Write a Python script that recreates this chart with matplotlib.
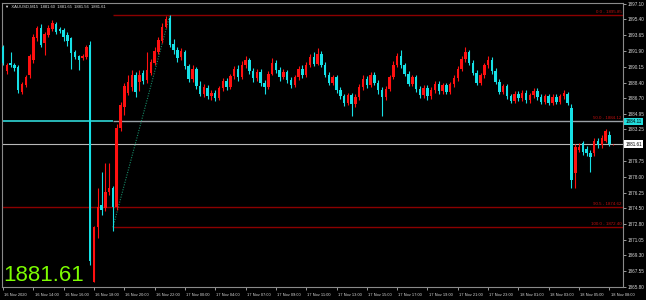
import matplotlib
matplotlib.use("Agg")
import matplotlib.pyplot as plt
import matplotlib.transforms as mtransforms
import numpy as np

symbol = "XAUUSD,M15"

# M15 bars, 16 Nov 12:00 .. 18 Nov 08:00
opens = [
    1892.3, 1889.7, 1890.6, 1890.4, 1890.1, 1887.4, 1888.1, 1889.2, 1890.9, 1893.3,
    1894.5, 1892.8, 1893.7, 1894.3, 1894.9, 1894.3, 1894.2, 1893.7, 1893.3, 1891.8,
    1891.3, 1891.1, 1891.2, 1892.6, 1866.4, 1872.4, 1874.9, 1874.5, 1876.3, 1876.7,
    1874.7, 1883.4, 1885.7, 1887.3, 1887.9, 1889.3, 1888.5, 1889.5, 1888.7, 1889.5,
    1890.6, 1891.8, 1893.0, 1894.6, 1895.6, 1892.7, 1892.0, 1891.2, 1891.8, 1890.2,
    1888.8, 1889.9, 1888.0, 1887.2, 1887.8, 1886.9, 1887.3, 1886.7, 1887.8, 1888.6,
    1887.9, 1889.1, 1889.9, 1889.0, 1890.3, 1890.9, 1889.7, 1888.9, 1889.6, 1888.4,
    1887.9, 1889.4, 1890.6, 1889.8, 1889.0, 1889.6, 1888.7, 1888.1, 1889.0, 1889.9,
    1889.2, 1890.4, 1891.2, 1890.5, 1891.6, 1890.4, 1889.3, 1888.4, 1889.0, 1887.6,
    1886.9, 1886.2, 1887.0, 1886.0, 1886.8, 1887.9, 1888.8, 1888.1, 1889.3, 1888.4,
    1887.6, 1886.8, 1887.7, 1889.0, 1890.4, 1891.3, 1890.3, 1889.4, 1888.3, 1889.0,
    1887.7, 1887.0, 1887.8, 1886.9, 1887.6, 1888.3, 1887.5, 1888.1, 1887.4, 1888.2,
    1888.9, 1889.9, 1891.0, 1891.8, 1890.6, 1889.5, 1888.4, 1889.2, 1890.3, 1890.9,
    1889.7, 1888.5, 1887.4, 1888.0, 1886.9, 1886.4, 1887.2, 1886.7, 1887.3, 1886.5,
    1887.0, 1887.5, 1886.8, 1886.3, 1886.9, 1886.2, 1886.8, 1886.3, 1886.9, 1887.1,
    1885.6, 1878.4, 1881.0, 1881.7, 1881.1, 1880.6, 1880.6, 1882.0, 1881.5, 1882.0,
    1882.6, 1881.60,
]
highs = [
    1892.6, 1890.6, 1891.8, 1890.6, 1890.3, 1888.5, 1889.3, 1891.6, 1893.8, 1894.7,
    1894.9, 1894.0, 1894.8, 1895.3, 1895.1, 1894.6, 1894.4, 1894.0, 1893.5, 1892.0,
    1891.5, 1891.6, 1892.6, 1893.0, 1872.6, 1876.8, 1878.5, 1879.5, 1879.5, 1877.0,
    1883.8, 1886.3, 1888.4, 1889.3, 1889.8, 1889.6, 1889.8, 1889.8, 1891.8, 1891.0,
    1892.3, 1893.4, 1895.0, 1895.8, 1895.85, 1893.2, 1892.3, 1892.2, 1892.0, 1890.5,
    1890.3, 1890.1, 1888.6, 1888.2, 1888.1, 1887.6, 1887.6, 1888.0, 1888.9, 1888.9,
    1889.4, 1890.2, 1890.3, 1890.8, 1891.4, 1891.1, 1890.0, 1889.9, 1889.9, 1888.7,
    1889.7, 1891.1, 1890.9, 1890.1, 1889.9, 1889.8, 1889.0, 1889.3, 1890.2, 1890.3,
    1890.7, 1891.6, 1891.8, 1892.2, 1891.9, 1890.7, 1889.6, 1889.3, 1889.3, 1887.9,
    1887.2, 1887.3, 1887.3, 1887.1, 1888.2, 1889.2, 1889.1, 1889.6, 1889.6, 1888.7,
    1887.9, 1888.0, 1889.3, 1890.8, 1891.7, 1892.0, 1890.6, 1889.7, 1889.3, 1889.3,
    1888.0, 1888.1, 1888.1, 1887.9, 1888.6, 1888.6, 1888.4, 1888.4, 1888.5, 1889.2,
    1890.2, 1891.4, 1892.3, 1892.0, 1890.9, 1889.8, 1889.5, 1890.6, 1891.3, 1891.2,
    1890.0, 1888.8, 1888.3, 1888.3, 1887.2, 1887.5, 1887.5, 1887.6, 1887.6, 1887.3,
    1887.8, 1887.8, 1887.1, 1887.2, 1887.2, 1887.1, 1887.1, 1887.2, 1887.6, 1887.4,
    1886.0, 1881.6, 1881.7, 1882.0, 1881.4, 1880.9, 1882.3, 1882.3, 1882.6, 1883.3,
    1883.0, 1881.65,
]
lows = [
    1890.4, 1889.4, 1890.1, 1889.7, 1887.3, 1887.2, 1887.9, 1888.9, 1890.6, 1893.0,
    1892.3, 1891.5, 1893.5, 1894.1, 1893.8, 1893.9, 1893.0, 1892.5, 1889.9, 1891.0,
    1889.8, 1890.9, 1891.0, 1868.2, 1866.3, 1871.2, 1873.8, 1874.2, 1876.0, 1872.0,
    1874.3, 1883.0, 1884.8, 1887.0, 1887.5, 1886.8, 1887.5, 1888.3, 1888.4, 1889.2,
    1890.3, 1891.6, 1892.8, 1894.4, 1892.3, 1891.6, 1890.7, 1890.9, 1889.9, 1888.5,
    1888.5, 1887.7, 1886.9, 1886.8, 1886.6, 1886.5, 1886.4, 1886.5, 1887.5, 1887.6,
    1887.7, 1888.8, 1888.6, 1888.8, 1890.0, 1889.4, 1888.5, 1888.6, 1888.0, 1887.2,
    1887.7, 1889.2, 1889.5, 1888.6, 1888.8, 1888.4, 1887.8, 1887.9, 1888.7, 1888.9,
    1889.0, 1890.1, 1890.2, 1890.3, 1890.1, 1889.0, 1888.1, 1888.1, 1887.3, 1886.6,
    1885.8, 1885.9, 1884.7, 1885.7, 1886.5, 1887.6, 1887.8, 1887.9, 1888.1, 1887.2,
    1884.7, 1886.5, 1887.5, 1888.8, 1890.1, 1890.0, 1889.1, 1888.0, 1888.0, 1887.4,
    1886.7, 1886.7, 1886.5, 1886.6, 1887.3, 1887.2, 1887.2, 1887.1, 1887.1, 1887.9,
    1888.6, 1889.7, 1890.7, 1890.3, 1889.2, 1888.1, 1888.1, 1888.9, 1890.0, 1889.4,
    1888.2, 1887.1, 1887.1, 1886.6, 1886.1, 1886.1, 1886.4, 1886.4, 1886.2, 1886.2,
    1886.7, 1886.5, 1886.0, 1886.0, 1885.9, 1885.9, 1886.0, 1886.0, 1886.6, 1885.9,
    1876.7, 1876.8, 1880.7, 1880.4, 1880.3, 1878.5, 1880.3, 1881.2, 1881.2, 1881.8,
    1881.4, 1881.56,
]
closes = [
    1890.6, 1890.4, 1890.3, 1890.0, 1887.6, 1888.3, 1889.0, 1891.4, 1893.4, 1894.4,
    1892.6, 1893.8, 1894.5, 1895.0, 1894.0, 1894.1, 1893.5, 1893.0, 1891.7, 1891.2,
    1890.9, 1891.4, 1892.3, 1868.7, 1872.4, 1874.6, 1874.3, 1876.3, 1876.7, 1874.6,
    1883.4, 1885.9, 1888.0, 1888.5, 1889.3, 1887.4, 1889.3, 1888.6, 1889.8, 1890.7,
    1891.9, 1893.1, 1894.6, 1895.4, 1892.6, 1892.0, 1891.1, 1891.9, 1890.2, 1888.8,
    1889.9, 1888.0, 1887.2, 1887.9, 1886.9, 1887.3, 1886.7, 1887.8, 1888.6, 1887.9,
    1889.1, 1889.9, 1889.0, 1890.3, 1890.9, 1889.7, 1888.9, 1889.6, 1888.4, 1887.9,
    1889.4, 1890.6, 1889.8, 1889.0, 1889.6, 1888.7, 1888.1, 1889.0, 1889.9, 1889.2,
    1890.4, 1891.2, 1890.5, 1891.6, 1890.4, 1889.3, 1888.4, 1889.0, 1887.6, 1886.9,
    1886.2, 1887.0, 1886.0, 1886.8, 1887.9, 1888.8, 1888.1, 1889.3, 1888.4, 1887.6,
    1886.8, 1887.7, 1889.0, 1890.4, 1891.3, 1890.3, 1889.4, 1888.3, 1889.0, 1887.7,
    1887.0, 1887.8, 1886.9, 1887.6, 1888.3, 1887.5, 1888.1, 1887.4, 1888.2, 1888.9,
    1889.9, 1891.0, 1891.8, 1890.6, 1889.5, 1888.4, 1889.2, 1890.3, 1890.9, 1889.7,
    1888.5, 1887.4, 1888.0, 1886.9, 1886.4, 1887.2, 1886.7, 1887.3, 1886.5, 1887.0,
    1887.5, 1886.8, 1886.3, 1886.9, 1886.2, 1886.8, 1886.3, 1886.9, 1887.3, 1886.2,
    1877.6, 1881.3, 1881.3, 1880.7, 1880.6, 1880.2, 1882.0, 1881.5, 1882.3, 1883.0,
    1881.61, 1881.61,
]

time_labels = [
    "16 Nov 2020", "16 Nov 14:00", "16 Nov 16:00", "16 Nov 18:00", "16 Nov 20:00",
    "16 Nov 22:00", "17 Nov 00:00", "17 Nov 04:00", "17 Nov 07:00", "17 Nov 09:00",
    "17 Nov 11:00", "17 Nov 13:00", "17 Nov 15:00", "17 Nov 17:00", "17 Nov 19:00",
    "17 Nov 21:00", "17 Nov 23:00", "18 Nov 01:00", "18 Nov 03:00", "18 Nov 05:00",
    "18 Nov 08:00",
]
label_step = 8

price_ticks = [1897.10, 1895.40, 1893.65, 1891.90, 1890.15, 1888.40, 1886.70,
               1884.95, 1883.25, 1879.75, 1878.00, 1876.25, 1874.50, 1872.80,
               1871.05, 1869.30, 1867.55, 1865.80]

bid = 1881.61
hline_price = 1884.11

# fibonacci drawn from bar 29 (low) to bar 44 (high)
fib_from, fib_to = 29, 44
fib_low, fib_high = 1872.40, 1895.85
fib_levels = [0.0, 50.0, 100.0]
extra_level = (90.5, 1874.62)

BG = "black"
UP = "#ff1010"
DOWN = "#16e0e6"
FIBC = "#8b0000"
FONT = ["Liberation Sans", "DejaVu Sans"]

fig = plt.figure(figsize=(6.46, 3.0), dpi=100, facecolor=BG)
ax = fig.add_axes([2 / 646, 13 / 300, 621 / 646, 284 / 300])
ax.set_facecolor(BG)

o = np.array(opens)
h = np.array(highs)
l = np.array(lows)
c = np.array(closes)
x = np.arange(len(c))
cols = np.where(c >= o, UP, DOWN)

xmin, xmax = -0.27, 163.6
ax.set_xlim(xmin, xmax)
ax.set_ylim(1865.80, 1897.21)

# level lines
ax.hlines(hline_price, xmin, fib_from, color="#2cc6c6", lw=1.3, zorder=1)
ax.hlines(hline_price, fib_from, xmax, color="#9aa0a6", lw=1.0, zorder=1)
ax.axhline(bid, color="#b8b8b8", lw=0.8, zorder=1)
for lvl in fib_levels:
    if lvl == 50.0:
        continue
    p = fib_high - (fib_high - fib_low) * lvl / 100
    ax.hlines(p, fib_from, xmax, color=FIBC, lw=1.0, zorder=1)
ax.axhline(extra_level[1], color=FIBC, lw=1.0, zorder=1)

for lvl in fib_levels:
    p = fib_high - (fib_high - fib_low) * lvl / 100
    ax.text(xmax - 0.4, p + 0.12, f"{lvl:.1f} - {p:.2f}", ha="right", va="bottom",
            color="#c01010", fontsize=3.2, family=FONT, zorder=3)
ax.text(xmax - 0.4, extra_level[1] + 0.12, f"{extra_level[0]:.1f} - {extra_level[1]:.2f}",
        ha="right", va="bottom", color="#c01010", fontsize=3.2, family=FONT, zorder=3)

ax.plot([fib_from, fib_to], [fib_low, fib_high], color="#178a68", lw=0.8,
        ls=(0, (1, 1.3)), zorder=2)

# candles
ax.vlines(x, l, h, colors=cols, lw=0.8, zorder=4)
ax.bar(x, np.maximum(np.abs(c - o), 0.07), bottom=np.minimum(o, c), width=0.66,
       color=cols, linewidth=0, zorder=5)

# axes styling
for side in ["left", "top", "bottom", "right"]:
    ax.spines[side].set_color("#8a8a8a")
    ax.spines[side].set_linewidth(0.8)

ax.yaxis.tick_right()
ax.set_yticks(price_ticks)
ax.set_yticklabels([f"{v:.2f}" for v in price_ticks])
ax.tick_params(axis="y", colors="#d8d8d8", labelsize=3.3, length=2, width=0.5, pad=1.5)
for t in ax.get_yticklabels():
    t.set_family(FONT)

ax.set_xticks(np.arange(0, len(time_labels) * label_step, label_step))
ax.set_xticklabels(time_labels)
ax.tick_params(axis="x", colors="#d8d8d8", labelsize=2.9, length=2.5, width=0.5, pad=1.5)
for t in ax.get_xticklabels():
    t.set_family(FONT)
    t.set_ha("left")
    t.set_transform(t.get_transform() + mtransforms.ScaledTranslation(1.2 / 100, 0, fig.dpi_scale_trans))

trans = mtransforms.blended_transform_factory(ax.transAxes, ax.transData)
ax.text(1.004, hline_price, f"{hline_price:.2f}", transform=trans, ha="left", va="center",
        fontsize=3.3, color="black", family=FONT, zorder=6,
        bbox=dict(boxstyle="square,pad=0.25", facecolor="#22dede", edgecolor="none"))
ax.text(1.004, bid, f"{bid:.2f}", transform=trans, ha="left", va="center",
        fontsize=3.3, color="black", family=FONT, zorder=6,
        bbox=dict(boxstyle="square,pad=0.25", facecolor="white", edgecolor="none"))

# header and big price
fig.text(5 / 646, 1 - 7 / 300,
         f"\u25bc  {symbol}  {opens[-1]:.2f}  {highs[-1]:.2f}  {lows[-1]:.2f}  {closes[-1]:.2f}",
         fontsize=3.0, color="#e0e0e0", family=FONT, va="center")
fig.text(3 / 646, 19 / 300, f"{bid:.2f}", fontsize=16, color="#7cfc00",
         family=FONT, va="baseline", ha="left")

fig.savefig("out.png", dpi=100, facecolor=BG)
